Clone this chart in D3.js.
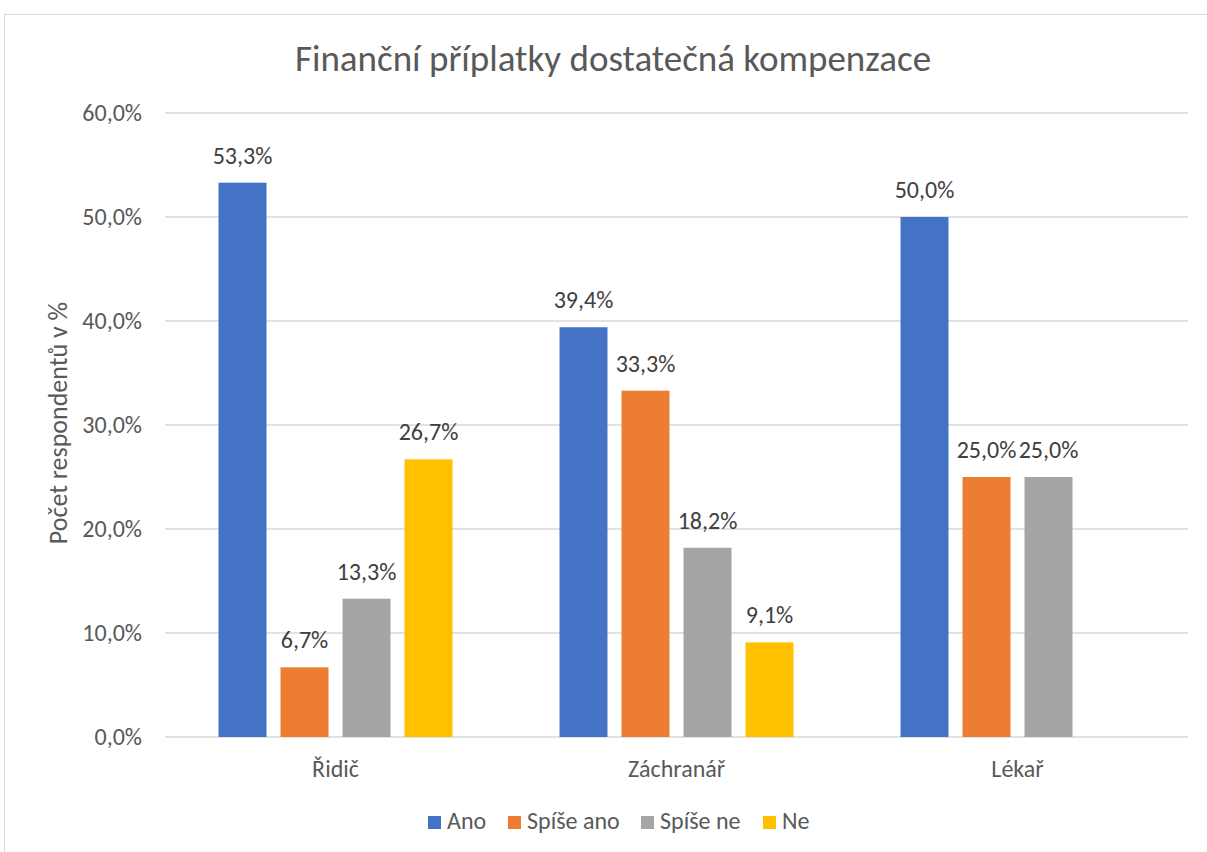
<!DOCTYPE html>
<html>
<head>
<meta charset="utf-8">
<script src="https://cdn.jsdelivr.net/npm/d3@7"></script>
<style>
  body { margin: 0; background: #fff; }
  svg { font-family: Carlito, Calibri, "Open Sans", sans-serif; }
</style>
</head>
<body>
<svg id="chart" width="1207" height="852"></svg>
<script>
// data
var categories = ["Řidič", "Záchranář", "Lékař"];
var seriesNames = ["Ano", "Spíše ano", "Spíše ne", "Ne"];
var ano = [53.3, 39.4, 50.0];
var spiseAno = [6.7, 33.3, 25.0];
var spiseNe = [13.3, 18.2, 25.0];
var ne = [26.7, 9.1, null];
var yTicks = [0, 10, 20, 30, 40, 50, 60];
var colors = ["#4472c4", "#ed7d31", "#a5a5a5", "#ffc000"];

var seriesValues = [ano, spiseAno, spiseNe, ne];

var svg = d3.select("#chart");
var plot = {left: 165, right: 1188, top: 113, bottom: 737};

// chart border
svg.append("rect")
  .attr("x", 4.5).attr("y", 14.5)
  .attr("width", 1220).attr("height", 860)
  .attr("fill", "white")
  .attr("stroke", "#d9d9d9");

var x0 = d3.scaleBand().domain(categories).range([plot.left, plot.right]);
var x1 = d3.scaleBand().domain(seriesNames).range([0, x0.bandwidth()])
  .paddingInner(0.226).paddingOuter(0.863);
var y = d3.scaleLinear().domain([0, 60]).range([plot.bottom, plot.top]);

var fmt = function(v) { return d3.format(".1f")(v).replace(".", ",") + "%"; };

// grid
svg.append("g").selectAll("line").data(yTicks).join("line")
  .attr("x1", plot.left).attr("x2", plot.right)
  .attr("y1", function(d) { return y(d); })
  .attr("y2", function(d) { return y(d); })
  .attr("stroke", "#d9d9d9")
  .attr("stroke-width", 1.3);

// y tick labels
svg.append("g").selectAll("text").data(yTicks).join("text")
  .attr("x", 142)
  .attr("y", function(d) { return y(d) + 8; })
  .attr("text-anchor", "end")
  .style("font-size", "24px")
  .style("fill", "#595959")
  .text(fmt);

// bars
var rows = [];
categories.forEach(function(c, i) {
  seriesNames.forEach(function(s, j) {
    var v = seriesValues[j][i];
    if (v != null) rows.push({cat: c, ser: s, val: v, col: colors[j]});
  });
});

svg.append("g").selectAll("rect").data(rows).join("rect")
  .attr("x", function(d) { return x0(d.cat) + x1(d.ser); })
  .attr("y", function(d) { return y(d.val); })
  .attr("width", x1.bandwidth())
  .attr("height", function(d) { return y(0) - y(d.val); })
  .attr("fill", function(d) { return d.col; });

// value labels
svg.append("g").selectAll("text").data(rows).join("text")
  .attr("x", function(d) { return x0(d.cat) + x1(d.ser) + x1.bandwidth() / 2; })
  .attr("y", function(d) { return y(d.val) - 19; })
  .attr("text-anchor", "middle")
  .style("font-size", "24px")
  .style("fill", "#404040")
  .text(function(d) { return fmt(d.val); });

// category labels
svg.append("g").selectAll("text").data(categories).join("text")
  .attr("x", function(d) { return x0(d) + x0.bandwidth() / 2; })
  .attr("y", 777)
  .attr("text-anchor", "middle")
  .style("font-size", "24px")
  .style("fill", "#595959")
  .text(function(d) { return d; });

// title
svg.append("text")
  .attr("x", 613).attr("y", 71)
  .attr("text-anchor", "middle")
  .style("font-size", "37px")
  .style("fill", "#595959")
  .text("Finanční příplatky dostatečná kompenzace");

// axis title
svg.append("text")
  .attr("transform", "translate(67,423) rotate(-90)")
  .attr("text-anchor", "middle")
  .style("font-size", "26px")
  .style("fill", "#595959")
  .text("Počet respondentů v %");

// legend
var legX = [428, 508, 641, 763];
var leg = svg.append("g").selectAll("g").data(seriesNames).join("g")
  .attr("transform", function(d, i) { return "translate(" + legX[i] + ",816)"; });
leg.append("rect").attr("width", 13).attr("height", 13)
  .attr("fill", function(d, i) { return colors[i]; });
leg.append("text").attr("x", 19).attr("y", 13)
  .style("font-size", "24px")
  .style("fill", "#595959")
  .text(function(d) { return d; });
</script>
</body>
</html>
